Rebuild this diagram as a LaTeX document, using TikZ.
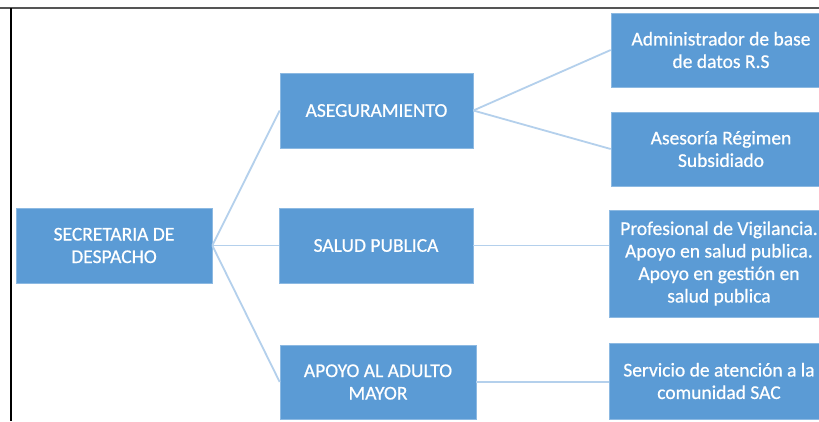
\documentclass[tikz,border=0pt]{standalone}
\usepackage{fontspec}
\setmainfont{Carlito}
\newfontfamily\boxfont{Carlito}[FakeBold=0.6]
\definecolor{boxblue}{HTML}{5B9BD5}
\definecolor{linkblue}{HTML}{B4D0EC}
\definecolor{framegray}{HTML}{555555}
\begin{document}
\begin{tikzpicture}[x=1pt,y=-1pt,
  orgbox/.style={draw=boxblue!70!white, line width=0.6pt, fill=boxblue, text=white,
    font=\boxfont\fontsize{19.5}{22.5}\selectfont, align=center, inner sep=0pt, anchor=center},
  link/.style={draw=linkblue, line width=1.8pt}]
\useasboundingbox (0,0) rectangle (819,421);
\clip (0,0) rectangle (819,421);
\fill[white] (0,0) rectangle (819,421);
\draw[framegray, line width=2pt] (0,8) -- (819,8);
\draw[black, line width=2pt] (11,8) -- (11,421);

\node[orgbox, minimum width=196pt, minimum height=75pt] (sec) at (114,245.5) {SECRETARIA DE\\DESPACHO};
\node[orgbox, minimum width=193pt, minimum height=75pt] (ase) at (376.5,110.5) {ASEGURAMIENTO};
\node[orgbox, minimum width=194pt, minimum height=75pt] (sal) at (376,245.5) {SALUD PUBLICA};
\node[orgbox, minimum width=196pt, minimum height=74pt] (apo) at (378,382) {APOYO AL ADULTO\\MAYOR};
\node[orgbox, minimum width=220pt, minimum height=74pt] (adm) at (721,50) {Administrador de base\\de datos R.S};
\node[orgbox, minimum width=220pt, minimum height=74pt] (ases) at (721,149) {Asesoría Régimen\\Subsidiado};
\node[orgbox, minimum width=220pt, minimum height=107pt] (prof) at (719,263.5) {Profesional de Vigilancia.\\Apoyo en salud publica.\\Apoyo en gestión en\\salud publica};
\node[orgbox, minimum width=220pt, minimum height=76pt] (serv) at (719,381) {Servicio de atención a la\\comunidad SAC};

\draw[link] (sec.east) -- (ase.west);
\draw[link] (sec.east) -- (sal.west);
\draw[link] (sec.east) -- (apo.west);
\draw[link] (ase.east) -- (adm.west);
\draw[link] (ase.east) -- (ases.west);
\draw[link] (sal.east) -- (sal.east -| prof.west);
\draw[link] (apo.east) -- (apo.east -| serv.west);
\end{tikzpicture}
\end{document}
